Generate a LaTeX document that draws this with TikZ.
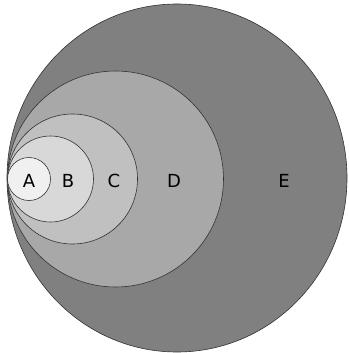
\documentclass[tikz,border=0pt]{standalone}
\usepackage{fontspec}
\setsansfont{DejaVu Sans}
\usetikzlibrary{positioning,shapes.geometric}
\definecolor{shadeA}{HTML}{F0F0F0}
\definecolor{shadeB}{HTML}{D8D8D8}
\definecolor{shadeC}{HTML}{C0C0C0}
\definecolor{shadeD}{HTML}{A8A8A8}
\definecolor{shadeE}{HTML}{808080}

\begin{document}
\begin{tikzpicture}[
  x=1pt, y=-1pt,
  disc/.style={circle, draw=black!80, line width=0.6pt, inner sep=0pt, outer sep=0pt},
  lbl/.style={font=\sffamily\fontsize{18}{20}\selectfont, text=black, inner sep=0pt},
]
\clip (0,0) rectangle (348,353);
\def\cy{179}
% ---- nested discs, all touching at the left ----
\node[disc, ellipse, fill=shadeE, minimum width=340pt, minimum height=348pt] (discE) at (177,178) {};
\node[disc, fill=shadeD, minimum size=216pt] (discD) at (115.5,\cy) {};
\node[disc, fill=shadeC, minimum size=130pt] (discC) at (72.5,\cy)  {};
\node[disc, fill=shadeB, minimum size=86pt]  (discB) at (50.5,\cy)  {};
\node[disc, fill=shadeA, minimum size=43pt]  (discA) at (29,\cy)    {};

% ---- labels ----
\node[lbl] (labA) at (29,181)  {A};
\node[lbl] (labB) at (68,181)  {B};
\node[lbl] (labC) at (114,181) {C};
\node[lbl] (labD) at (174,181) {D};
\node[lbl] (labE) at (284,181) {E};
\end{tikzpicture}
\end{document}
